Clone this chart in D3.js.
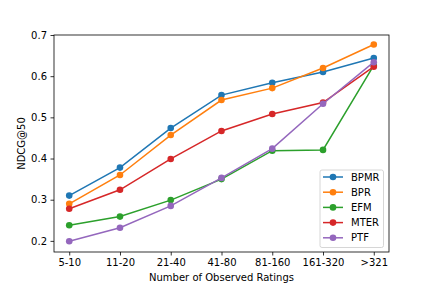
<!DOCTYPE html>
<html>
<head>
<meta charset="utf-8">
<script src="https://cdn.jsdelivr.net/npm/d3@7"></script>
<style>
  body { margin: 0; background: #fff; }
  text { font-family: "DejaVu Sans", sans-serif; fill: #000; }
</style>
</head>
<body>
<div id="chart"></div>
<script>
// categories on the x axis
var categories = ["5-10", "11-20", "21-40", "41-80", "81-160", "161-320", ">321"];
var seriesNames = ["BPMR", "BPR", "EFM", "MTER", "PTF"];
var seriesColors = ["#1f77b4", "#ff7f0e", "#2ca02c", "#d62728", "#9467bd"];

// values
var bpmr = [0.310, 0.378, 0.474, 0.554, 0.584, 0.610, 0.644];
var bpr  = [0.290, 0.360, 0.457, 0.542, 0.571, 0.620, 0.677];
var efm  = [0.238, 0.259, 0.299, 0.350, 0.419, 0.421, 0.626];
var mter = [0.278, 0.324, 0.399, 0.467, 0.508, 0.536, 0.623];
var ptf  = [0.199, 0.232, 0.285, 0.353, 0.424, 0.533, 0.634];
var yTicks = [0.2, 0.3, 0.4, 0.5, 0.6, 0.7];

var series = [bpmr, bpr, efm, mter, ptf];

var width = 432, height = 288;
var margin = {top: 35, right: 43, bottom: 36, left: 54};

var svg = d3.select("#chart").append("svg")
    .attr("width", width)
    .attr("height", height);

var x = d3.scaleLinear()
    .domain([-0.3, categories.length - 1 + 0.3])
    .range([margin.left, width - margin.right]);

var y = d3.scaleLinear()
    .domain([0.173, 0.7])
    .range([height - margin.bottom, margin.top]);

//axes
var xAxis = d3.axisBottom(x)
    .tickValues(d3.range(categories.length))
    .tickFormat(function(i){ return categories[i]; })
    .tickSizeOuter(0).tickSize(3.5).tickPadding(3.5);
var yAxis = d3.axisLeft(y)
    .tickValues(yTicks)
    .tickFormat(d3.format(".1f"))
    .tickSizeOuter(0).tickSize(3.5).tickPadding(3.5);

var gx = svg.append("g")
    .attr("transform", "translate(0," + (height - margin.bottom) + ")")
    .call(xAxis);
var gy = svg.append("g")
    .attr("transform", "translate(" + margin.left + ",0)")
    .call(yAxis);
[gx, gy].forEach(function(g){
    g.selectAll("text").style("font-size", "10px").style("font-family", "DejaVu Sans");
    g.selectAll("line").attr("stroke", "#000").attr("stroke-width", 0.8);
    g.select(".domain").remove();
});

// frame
svg.append("rect")
    .attr("x", margin.left).attr("y", margin.top)
    .attr("width", width - margin.left - margin.right)
    .attr("height", height - margin.top - margin.bottom)
    .attr("fill", "none").attr("stroke", "#000").attr("stroke-width", 0.8);

var line = d3.line()
    .x(function(d, i){ return x(i); })
    .y(function(d){ return y(d); });

series.forEach(function(vals, s){
    svg.append("path")
        .datum(vals)
        .attr("d", line)
        .attr("fill", "none")
        .attr("stroke", seriesColors[s])
        .attr("stroke-width", 1.5);
    svg.selectAll(".pt" + s).data(vals).enter().append("circle")
        .attr("class", "pt" + s)
        .attr("cx", function(d, i){ return x(i); })
        .attr("cy", function(d){ return y(d); })
        .attr("r", 3.3)
        .attr("fill", seriesColors[s]);
});

// axis labels
svg.append("text")
    .attr("x", (margin.left + width - margin.right) / 2)
    .attr("y", 281)
    .attr("text-anchor", "middle")
    .style("font-size", "10px")
    .text("Number of Observed Ratings");
svg.append("text")
    .attr("transform", "translate(25," + ((margin.top + height - margin.bottom) / 2) + ") rotate(-90)")
    .attr("text-anchor", "middle")
    .style("font-size", "10px")
    .text("NDCG@50");

// legend
var legend = svg.append("g");
legend.append("rect")
    .attr("x", 320).attr("y", 170)
    .attr("width", 63.5).attr("height", 77.5)
    .attr("rx", 2)
    .attr("fill", "#fff").attr("fill-opacity", 0.8)
    .attr("stroke", "#ccc").attr("stroke-width", 0.8);
seriesNames.forEach(function(name, s){
    var ly = 177 + s * 15.2;
    legend.append("line")
        .attr("x1", 323).attr("x2", 343)
        .attr("y1", ly).attr("y2", ly)
        .attr("stroke", seriesColors[s]).attr("stroke-width", 1.5);
    legend.append("circle")
        .attr("cx", 333).attr("cy", ly).attr("r", 3.3)
        .attr("fill", seriesColors[s]);
    legend.append("text")
        .attr("x", 351).attr("y", ly + 3.6)
        .style("font-size", "10px")
        .text(name);
});
</script>
</body>
</html>
